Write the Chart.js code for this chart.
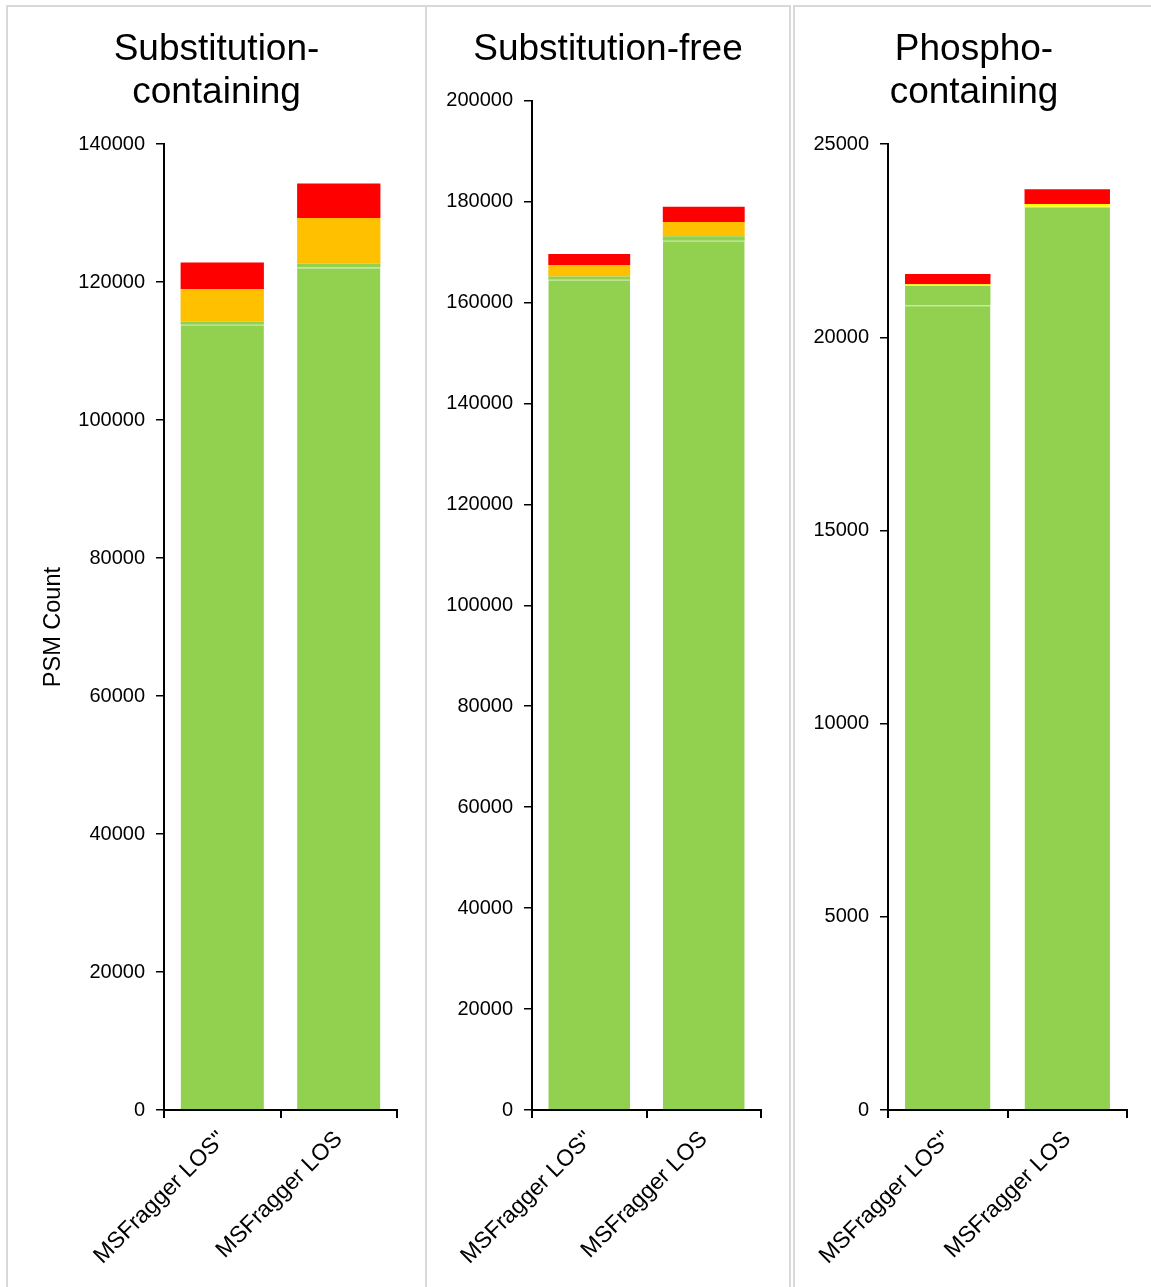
<!DOCTYPE html>
<html>
<head>
<meta charset="utf-8">
<title>PSM count</title>
<script src="https://cdn.jsdelivr.net/npm/chart.js"></script>
<style>
    body { margin: 0; background: #fff; }
    .panel { position: absolute; top: 5px; height: 1300px; border: 2px solid #d9d9d9; box-sizing: border-box; }
    .panel canvas { display: block; }
</style>
</head>
<body>
<div class="panel" style="left:6px;width:421px"><canvas id="c1" width="417" height="1282"></canvas></div>
<div class="panel" style="left:425px;width:366px"><canvas id="c2" width="362" height="1282"></canvas></div>
<div class="panel" style="left:793px;width:362px"><canvas id="c3" width="358" height="1282"></canvas></div>
<script>
    var categories = ['MSFragger LOS"', 'MSFragger LOS'];

    // Substitution-containing
    var subGreen = [113800, 122100];
    var subGreen2 = [450, 600];
    var subOrange = [4700, 6600];
    var subRed = [3900, 5000];

    // Substitution-free
    var freeGreen = [164500, 172200];
    var freeGreen2 = [650, 900];
    var freeOrange = [2250, 2850];
    var freeRed = [2200, 3000];

    // Phospho-containing
    var phosGreen = [20830, 23380];
    var phosGreen2 = [500, 0];
    var phosYellow = [45, 70];
    var phosRed = [260, 380];

    // min, max, step
    var subAxis = [0, 140000, 20000];
    var freeAxis = [0, 200000, 20000];
    var phosAxis = [0, 25000, 5000];

    var FONT = "'Liberation Sans', Arial, sans-serif";

    // center the title over the whole canvas, not just the padded box
    var fullTitle = {
        id: 'fullTitle',
        afterLayout: function(chart) {
            if (chart.titleBlock) {
                chart.titleBlock.left = 0;
                chart.titleBlock.right = chart.width;
            }
        }
    };

    function makeChart(id, title, series, colors, axis, yWidth, rightPad, titlePad, yTitle) {
        var datasets = series.map(function(values, i) {
            return {
                data: values,
                backgroundColor: colors[i],
                borderColor: i === 0 ? '#b8e28f' : 'rgba(255,255,255,0.35)',
                borderWidth: i === 0 ? {top: 1, left: 0, right: 0, bottom: 0} : 0,
                borderSkipped: false,
                barPercentage: 0.715,
                categoryPercentage: 1
            };
        });
        var ctx = document.getElementById(id).getContext('2d');
        return new Chart(ctx, {
            type: 'bar',
            data: { labels: categories, datasets: datasets },
            plugins: [fullTitle],
            options: {
                responsive: false,
                animation: false,
                devicePixelRatio: 1,
                layout: { padding: { left: 0, right: rightPad, top: 0, bottom: 0 } },
                plugins: {
                    legend: { display: false },
                    tooltip: { enabled: false },
                    title: {
                        display: true,
                        text: title,
                        color: '#000',
                        font: { family: FONT, size: 37, weight: 'normal', lineHeight: 1.15 },
                        padding: titlePad
                    }
                },
                scales: {
                    x: {
                        stacked: true,
                        grid: { display: true, offset: true, drawOnChartArea: false, drawTicks: true, tickLength: 8, color: '#000', lineWidth: 2 },
                        border: { display: true, color: '#000', width: 2 },
                        ticks: { color: '#000', font: { family: FONT, size: 23 }, maxRotation: 45, minRotation: 45, padding: 8 },
                        afterFit: function(scale) {
                            scale.height = 179;
                            scale.paddingLeft = 0;
                            scale.paddingRight = 0;
                        }
                    },
                    y: {
                        stacked: true,
                        min: axis[0],
                        max: axis[1],
                        grid: { display: true, drawOnChartArea: false, drawTicks: true, tickLength: 8, color: '#000', lineWidth: 1.5 },
                        border: { display: true, color: '#000', width: 2 },
                        ticks: {
                            stepSize: axis[2], color: '#000', font: { family: FONT, size: 20 }, padding: 11,
                            callback: function(v) { return String(v); }
                        },
                        title: {
                            display: !!yTitle,
                            text: yTitle || '',
                            color: '#000',
                            font: { family: FONT, size: 23.5 },
                            padding: { top: 31, bottom: 0 }
                        },
                        afterFit: function(scale) { scale.width = yWidth; }
                    }
                }
            }
        });
    }

    makeChart('c1', ['Substitution-', 'containing'],
        [subGreen, subGreen2, subOrange, subRed],
        ['#92D050', '#92D050', '#FFC000', '#FF0000'],
        subAxis, 156, 28, { top: 22, bottom: 30 }, 'PSM Count');

    makeChart('c2', 'Substitution-free',
        [freeGreen, freeGreen2, freeOrange, freeRed],
        ['#92D050', '#92D050', '#FFC000', '#FF0000'],
        freeAxis, 105, 28, { top: 22, bottom: 29 }, null);

    makeChart('c3', ['Phospho-', 'containing'],
        [phosGreen, phosGreen2, phosYellow, phosRed],
        ['#92D050', '#92D050', '#FFFF00', '#FF0000'],
        phosAxis, 93, 26, { top: 22, bottom: 30 }, null);
</script>
</body>
</html>
